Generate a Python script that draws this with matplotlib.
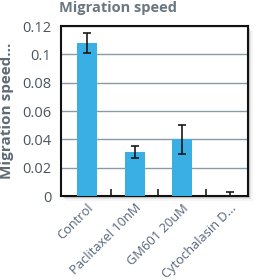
import numpy as np
import matplotlib
matplotlib.use('Agg')
import matplotlib.pyplot as plt
from matplotlib.patches import Rectangle

categories = ['Control', 'Paclitaxel 10nM', 'GM601 20uM', 'Cytochalasin D...']
speed = [0.108, 0.031, 0.040, 0.0]
err_lo = [0.007, 0.004, 0.010, 0.0]
err_hi = [0.007, 0.004, 0.010, 0.003]
yticks = [0, 0.02, 0.04, 0.06, 0.08, 0.1, 0.12]
ytick_labels = ['0', '0.02', '0.04', '0.06', '0.08', '0.1', '0.12']

plt.rcParams['font.family'] = ['Open Sans', 'DejaVu Sans']

fig = plt.figure(figsize=(2.65, 2.8), dpi=100)
pos = [0.230, 0.300, 0.706, 0.607]

# soft drop shadow behind the frame
for i, a in enumerate([0.10, 0.07, 0.04]):
    d = (i + 1) * 0.006
    fig.patches.append(Rectangle((pos[0] + d, pos[1] - d), pos[2], pos[3],
                                 transform=fig.transFigure, facecolor='#000000',
                                 alpha=a, edgecolor='none', zorder=0))

ax = fig.add_axes(pos)
ax.set_zorder(1)

x = np.arange(len(categories))
ax.bar(x, speed, width=0.42, color='#3aafe3', zorder=3)
ax.errorbar(x, speed, yerr=[err_lo, err_hi], fmt='none', ecolor='#1a1a1a',
            elinewidth=1.2, capsize=3, capthick=1.2, zorder=4)

ax.set_ylim(0, 0.12)
ax.set_xlim(-0.55, 3.39)
ax.set_yticks(yticks)
ax.set_yticklabels(ytick_labels, color='#4a5560', fontsize=10.5)
ax.tick_params(axis='y', length=0, pad=7)
ax.yaxis.grid(True, color='#8a9ba8', lw=1, zorder=0)

ax.set_xticks(x)
ax.set_xticklabels(categories, rotation=45, ha='right', rotation_mode='anchor',
                   color='#55667a', fontsize=9.3)
ax.tick_params(axis='x', length=0, pad=4)
ax.set_xticks([0.5, 1.5, 2.5], minor=True)
ax.tick_params(axis='x', which='minor', direction='in', length=5, width=1.2, color='#1a1a1a')

for s in ax.spines.values():
    s.set_color('#111111')
    s.set_linewidth(1.5)

ax.set_ylabel('Migration speed...', color='#5e6a75', fontsize=11,
              fontweight='bold', labelpad=6)
fig.text(0.445, 0.970, 'Migration speed', color='#6a7680', fontsize=10.5,
         fontweight='bold', ha='center', va='center')

fig.savefig('out.png', dpi=100)
